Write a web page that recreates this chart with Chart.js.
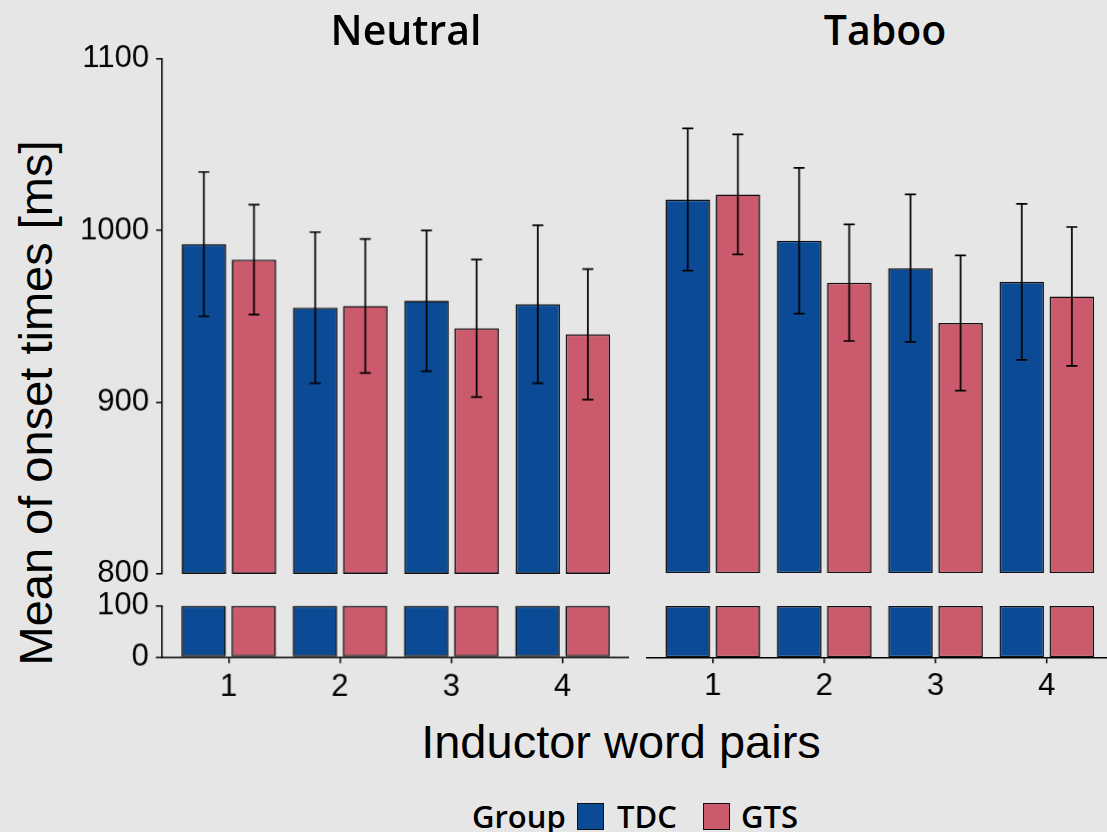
<!DOCTYPE html>
<html>
<head>
<meta charset="utf-8">
<script src="https://cdn.jsdelivr.net/npm/chart.js@4/dist/chart.umd.min.js"></script>
<style>
  html, body { margin:0; padding:0; background:#e6e6e6; }
  body { width:1107px; height:832px; position:relative; overflow:hidden; }
  .wrap { position:absolute; left:0; top:0; width:500px; height:300px; }
  .txt { position:absolute; white-space:nowrap; line-height:1; color:#000; }
  .title { font-family:'Open Sans', 'DejaVu Sans', sans-serif; font-weight:600; font-size:41px; transform:translate(-50%,-50%); }
  .axt { font-family:'Liberation Sans', Arial, sans-serif; font-size:47px; }
  .leg { font-family:'Open Sans', 'DejaVu Sans', sans-serif; font-weight:600; font-size:31px; transform:translateY(-50%); }
  .sw { position:absolute; width:27px; height:27px; border:1.5px solid #111; box-sizing:border-box; }
</style>
</head>
<body>
<div class="wrap" id="wNU"><canvas id="cNU"></canvas></div>
<div class="wrap" id="wNL"><canvas id="cNL"></canvas></div>
<div class="wrap" id="wTU"><canvas id="cTU"></canvas></div>
<div class="wrap" id="wTL"><canvas id="cTL"></canvas></div>

<div class="txt title" style="left:406px; top:29px;">Neutral</div>
<div class="txt title" style="left:885px; top:29px;">Taboo</div>
<div class="txt axt" style="left:35px; top:403px; transform:translate(-50%,-50%) rotate(-90deg);">Mean of onset times [ms]</div>
<div class="txt axt" style="left:621px; top:741px; transform:translate(-50%,-50%);">Inductor word pairs</div>

<div class="txt leg" style="left:472px; top:816px;">Group</div>
<div class="sw" id="swTDC" style="left:577px; top:803px;"></div>
<div class="txt leg" style="left:617px; top:816px;">TDC</div>
<div class="sw" id="swGTS" style="left:703px; top:803px;"></div>
<div class="txt leg" style="left:741px; top:816px;">GTS</div>

<script>
// ---- data ----
const categories = ['1', '2', '3', '4'];
const groups = ['TDC', 'GTS'];
const neutralTDC = [992, 955, 959, 957];
const neutralTDCErr = [42, 44, 41, 46];
const neutralGTS = [983, 956, 943, 939.5];
const neutralGTSErr = [32, 39, 40, 38];
const tabooTDC = [1018, 994, 978, 970];
const tabooTDCErr = [41.5, 42.5, 43, 45.5];
const tabooGTS = [1021, 969.5, 946, 961.5];
const tabooGTSErr = [35, 34, 39.5, 40.5];
const upperTicks = [800, 900, 1000, 1100];
const lowerTicks = [0, 100];

// ---- style ----
const colors = { TDC: '#0b4b96', GTS: '#cb5a6c' };
const edge = '#111111';
const FONT = "'Liberation Sans', Arial, sans-serif";
document.getElementById('swTDC').style.background = colors.TDC;
document.getElementById('swGTS').style.background = colors.GTS;

Chart.defaults.font.family = FONT;
Chart.defaults.font.size = 31;
Chart.defaults.color = '#000';

const xPad = 0.6; // ggplot discrete expansion

function makeDatasets(tdc, tdcErr, gts, gtsErr, lower) {
  const lo = upperTicks[0];
  const cut = lowerTicks[lowerTicks.length - 1];
  const mk = (name, vals, errs) => ({
    label: name,
    data: vals.map((v, i) => ({ x: i + 1, y: lower ? [lowerTicks[0], Math.min(v, cut)] : [lo, v] })),
    means: vals,
    errors: lower ? null : errs,
    backgroundColor: colors[name],
    borderColor: edge,
    borderWidth: 1.6,
    borderSkipped: false,
    categoryPercentage: 0.9,
    barPercentage: 0.889,
    clip: 0
  });
  return [mk('TDC', tdc, tdcErr), mk('GTS', gts, gtsErr)];
}

const errorBars = {
  id: 'errorBars',
  afterDatasetsDraw(chart) {
    const ctx = chart.ctx, y = chart.scales.y;
    chart.data.datasets.forEach((ds, di) => {
      if (!ds.errors) return;
      const meta = chart.getDatasetMeta(di);
      meta.data.forEach((bar, i) => {
        const m = ds.means[i], e = ds.errors[i];
        const t = y.getPixelForValue(m + e), b = y.getPixelForValue(m - e);
        const x = bar.x, h = 5.5;
        ctx.save();
        ctx.strokeStyle = '#000';
        ctx.lineWidth = 1.7;
        ctx.beginPath();
        ctx.moveTo(x, t); ctx.lineTo(x, b);
        ctx.moveTo(x - h, t); ctx.lineTo(x + h, t);
        ctx.moveTo(x - h, b); ctx.lineTo(x + h, b);
        ctx.stroke();
        ctx.restore();
      });
    });
  }
};

function makeChart(id, datasets, lower, showY) {
  const yt = lower ? lowerTicks : upperTicks;
  return new Chart(document.getElementById(id), {
    type: 'bar',
    data: { datasets },
    plugins: [errorBars],
    options: {
      responsive: true,
      maintainAspectRatio: false,
      animation: false,
      events: [],
      layout: { padding: 0 },
      plugins: { legend: { display: false }, tooltip: { enabled: false } },
      scales: {
        x: {
          type: 'linear',
          display: lower,
          offset: false,
          min: 1 - xPad,
          max: categories.length + xPad,
          afterBuildTicks: s => { s.ticks = categories.map((c, i) => ({ value: i + 1 })); },
          ticks: { callback: v => categories[v - 1], padding: 5 },
          grid: { offset: false, drawOnChartArea: false, drawTicks: true, tickLength: 6, color: '#000', lineWidth: 1.5 },
          border: { display: true, color: '#000', width: 1.5 }
        },
        y: {
          display: showY,
          min: yt[0],
          max: yt[yt.length - 1],
          afterBuildTicks: s => { s.ticks = yt.map(v => ({ value: v })); },
          ticks: { padding: 7, callback: v => String(v) },
          grid: { drawOnChartArea: false, drawTicks: true, tickLength: 6, color: '#000', lineWidth: 1.5 },
          border: { display: true, color: '#000', width: 1.5 }
        }
      }
    }
  });
}

const charts = {
  NU: makeChart('cNU', makeDatasets(neutralTDC, neutralTDCErr, neutralGTS, neutralGTSErr, false), false, true),
  NL: makeChart('cNL', makeDatasets(neutralTDC, neutralTDCErr, neutralGTS, neutralGTSErr, true), true, true),
  TU: makeChart('cTU', makeDatasets(tabooTDC, tabooTDCErr, tabooGTS, tabooGTSErr, false), false, false),
  TL: makeChart('cTL', makeDatasets(tabooTDC, tabooTDCErr, tabooGTS, tabooGTSErr, true), true, false)
};

// desired plot-area rectangles (page pixels)
const areas = {
  NU: { left: 162, top: 59, right: 628.6, bottom: 573.3 },
  NL: { left: 162, top: 605.7, right: 628.6, bottom: 656.7 },
  TU: { left: 646, top: 59, right: 1112.6, bottom: 573.3 },
  TL: { left: 646, top: 605.7, right: 1112.6, bottom: 656.7 }
};

function place(key) {
  const chart = charts[key], wrap = document.getElementById('w' + key), a = areas[key];
  for (let k = 0; k < 3; k++) {
    const ca = chart.chartArea;
    const w = chart.width + (a.right - a.left) - (ca.right - ca.left);
    const h = chart.height + (a.bottom - a.top) - (ca.bottom - ca.top);
    wrap.style.width = w + 'px';
    wrap.style.height = h + 'px';
    chart.resize(w, h);
  }
  const ca = chart.chartArea;
  wrap.style.left = (a.left - ca.left) + 'px';
  wrap.style.top = (a.top - ca.top) + 'px';
}
Object.keys(charts).forEach(place);
</script>
</body>
</html>
